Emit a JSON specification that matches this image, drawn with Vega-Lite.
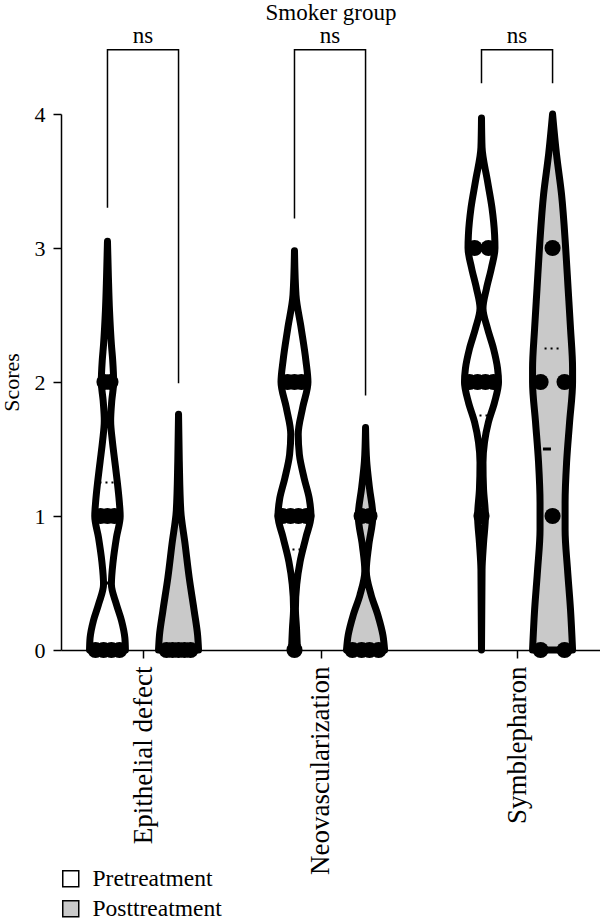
{
  "$schema": "https://vega.github.io/schema/vega-lite/v6.json",
  "width": 540,
  "height": 536,
  "padding": {"left": 0, "top": 2, "right": 0, "bottom": 0},
  "title": {"text": "Smoker group", "font": "Liberation Serif", "fontSize": 23, "fontWeight": "normal", "color": "black", "anchor": "middle", "offset": 0},
  "datasets": {
    "violin": [
      {"category": "Epithelial defect", "group": "Pretreatment", "score": 0, "halfwidth": 0.96},
      {"category": "Epithelial defect", "group": "Pretreatment", "score": 0.09, "halfwidth": 0.93},
      {"category": "Epithelial defect", "group": "Pretreatment", "score": 0.22, "halfwidth": 0.75},
      {"category": "Epithelial defect", "group": "Pretreatment", "score": 0.34, "halfwidth": 0.48},
      {"category": "Epithelial defect", "group": "Pretreatment", "score": 0.49, "halfwidth": 0.21},
      {"category": "Epithelial defect", "group": "Pretreatment", "score": 0.66, "halfwidth": 0.30},
      {"category": "Epithelial defect", "group": "Pretreatment", "score": 0.84, "halfwidth": 0.48},
      {"category": "Epithelial defect", "group": "Pretreatment", "score": 1.0, "halfwidth": 0.68},
      {"category": "Epithelial defect", "group": "Pretreatment", "score": 1.11, "halfwidth": 0.63},
      {"category": "Epithelial defect", "group": "Pretreatment", "score": 1.26, "halfwidth": 0.52},
      {"category": "Epithelial defect", "group": "Pretreatment", "score": 1.41, "halfwidth": 0.39},
      {"category": "Epithelial defect", "group": "Pretreatment", "score": 1.56, "halfwidth": 0.26},
      {"category": "Epithelial defect", "group": "Pretreatment", "score": 1.71, "halfwidth": 0.17},
      {"category": "Epithelial defect", "group": "Pretreatment", "score": 1.86, "halfwidth": 0.23},
      {"category": "Epithelial defect", "group": "Pretreatment", "score": 2.0, "halfwidth": 0.33},
      {"category": "Epithelial defect", "group": "Pretreatment", "score": 2.16, "halfwidth": 0.28},
      {"category": "Epithelial defect", "group": "Pretreatment", "score": 2.28, "halfwidth": 0.21},
      {"category": "Epithelial defect", "group": "Pretreatment", "score": 2.53, "halfwidth": 0.11},
      {"category": "Epithelial defect", "group": "Pretreatment", "score": 2.78, "halfwidth": 0.05},
      {"category": "Epithelial defect", "group": "Pretreatment", "score": 3.05, "halfwidth": 0},
      {"category": "Epithelial defect", "group": "Posttreatment", "score": 0, "halfwidth": 1.07},
      {"category": "Epithelial defect", "group": "Posttreatment", "score": 0.11, "halfwidth": 1.02},
      {"category": "Epithelial defect", "group": "Posttreatment", "score": 0.29, "halfwidth": 0.84},
      {"category": "Epithelial defect", "group": "Posttreatment", "score": 0.54, "halfwidth": 0.57},
      {"category": "Epithelial defect", "group": "Posttreatment", "score": 0.79, "halfwidth": 0.35},
      {"category": "Epithelial defect", "group": "Posttreatment", "score": 1.04, "halfwidth": 0.12},
      {"category": "Epithelial defect", "group": "Posttreatment", "score": 1.41, "halfwidth": 0.04},
      {"category": "Epithelial defect", "group": "Posttreatment", "score": 1.76, "halfwidth": 0},
      {"category": "Neovascularization", "group": "Pretreatment", "score": 0, "halfwidth": 0.16},
      {"category": "Neovascularization", "group": "Pretreatment", "score": 0.16, "halfwidth": 0.11},
      {"category": "Neovascularization", "group": "Pretreatment", "score": 0.31, "halfwidth": 0.05},
      {"category": "Neovascularization", "group": "Pretreatment", "score": 0.49, "halfwidth": 0.12},
      {"category": "Neovascularization", "group": "Pretreatment", "score": 0.66, "halfwidth": 0.30},
      {"category": "Neovascularization", "group": "Pretreatment", "score": 0.84, "halfwidth": 0.61},
      {"category": "Neovascularization", "group": "Pretreatment", "score": 1.0, "halfwidth": 0.88},
      {"category": "Neovascularization", "group": "Pretreatment", "score": 1.13, "halfwidth": 0.79},
      {"category": "Neovascularization", "group": "Pretreatment", "score": 1.28, "halfwidth": 0.52},
      {"category": "Neovascularization", "group": "Pretreatment", "score": 1.46, "halfwidth": 0.26},
      {"category": "Neovascularization", "group": "Pretreatment", "score": 1.61, "halfwidth": 0.20},
      {"category": "Neovascularization", "group": "Pretreatment", "score": 1.81, "halfwidth": 0.44},
      {"category": "Neovascularization", "group": "Pretreatment", "score": 2.0, "halfwidth": 0.72},
      {"category": "Neovascularization", "group": "Pretreatment", "score": 2.16, "halfwidth": 0.61},
      {"category": "Neovascularization", "group": "Pretreatment", "score": 2.4, "halfwidth": 0.36},
      {"category": "Neovascularization", "group": "Pretreatment", "score": 2.65, "halfwidth": 0.08},
      {"category": "Neovascularization", "group": "Pretreatment", "score": 2.98, "halfwidth": 0},
      {"category": "Neovascularization", "group": "Posttreatment", "score": 0, "halfwidth": 1.02},
      {"category": "Neovascularization", "group": "Posttreatment", "score": 0.11, "halfwidth": 0.93},
      {"category": "Neovascularization", "group": "Posttreatment", "score": 0.26, "halfwidth": 0.66},
      {"category": "Neovascularization", "group": "Posttreatment", "score": 0.41, "halfwidth": 0.30},
      {"category": "Neovascularization", "group": "Posttreatment", "score": 0.59, "halfwidth": 0.04},
      {"category": "Neovascularization", "group": "Posttreatment", "score": 0.78, "halfwidth": 0.17},
      {"category": "Neovascularization", "group": "Posttreatment", "score": 1.0, "halfwidth": 0.39},
      {"category": "Neovascularization", "group": "Posttreatment", "score": 1.21, "halfwidth": 0.21},
      {"category": "Neovascularization", "group": "Posttreatment", "score": 1.41, "halfwidth": 0.06},
      {"category": "Neovascularization", "group": "Posttreatment", "score": 1.66, "halfwidth": 0},
      {"category": "Symblepharon", "group": "Pretreatment", "score": 0, "halfwidth": 0},
      {"category": "Symblepharon", "group": "Pretreatment", "score": 0.6, "halfwidth": 0.03},
      {"category": "Symblepharon", "group": "Pretreatment", "score": 0.8, "halfwidth": 0.11},
      {"category": "Symblepharon", "group": "Pretreatment", "score": 1.0, "halfwidth": 0.21},
      {"category": "Symblepharon", "group": "Pretreatment", "score": 1.2, "halfwidth": 0.11},
      {"category": "Symblepharon", "group": "Pretreatment", "score": 1.4, "halfwidth": 0.08},
      {"category": "Symblepharon", "group": "Pretreatment", "score": 1.55, "halfwidth": 0.16},
      {"category": "Symblepharon", "group": "Pretreatment", "score": 1.7, "halfwidth": 0.37},
      {"category": "Symblepharon", "group": "Pretreatment", "score": 1.85, "halfwidth": 0.70},
      {"category": "Symblepharon", "group": "Pretreatment", "score": 2.0, "halfwidth": 0.91},
      {"category": "Symblepharon", "group": "Pretreatment", "score": 2.1, "halfwidth": 0.86},
      {"category": "Symblepharon", "group": "Pretreatment", "score": 2.25, "halfwidth": 0.64},
      {"category": "Symblepharon", "group": "Pretreatment", "score": 2.4, "halfwidth": 0.32},
      {"category": "Symblepharon", "group": "Pretreatment", "score": 2.55, "halfwidth": 0.08},
      {"category": "Symblepharon", "group": "Pretreatment", "score": 2.7, "halfwidth": 0.27},
      {"category": "Symblepharon", "group": "Pretreatment", "score": 2.85, "halfwidth": 0.53},
      {"category": "Symblepharon", "group": "Pretreatment", "score": 3.0, "halfwidth": 0.72},
      {"category": "Symblepharon", "group": "Pretreatment", "score": 3.1, "halfwidth": 0.70},
      {"category": "Symblepharon", "group": "Pretreatment", "score": 3.3, "halfwidth": 0.56},
      {"category": "Symblepharon", "group": "Pretreatment", "score": 3.5, "halfwidth": 0.32},
      {"category": "Symblepharon", "group": "Pretreatment", "score": 3.75, "halfwidth": 0.03},
      {"category": "Symblepharon", "group": "Pretreatment", "score": 3.97, "halfwidth": 0},
      {"category": "Symblepharon", "group": "Posttreatment", "score": 0, "halfwidth": 1.07},
      {"category": "Symblepharon", "group": "Posttreatment", "score": 0.3, "halfwidth": 0.96},
      {"category": "Symblepharon", "group": "Posttreatment", "score": 0.6, "halfwidth": 0.80},
      {"category": "Symblepharon", "group": "Posttreatment", "score": 0.9, "halfwidth": 0.67},
      {"category": "Symblepharon", "group": "Posttreatment", "score": 1.1, "halfwidth": 0.67},
      {"category": "Symblepharon", "group": "Posttreatment", "score": 1.4, "halfwidth": 0.75},
      {"category": "Symblepharon", "group": "Posttreatment", "score": 1.7, "halfwidth": 0.91},
      {"category": "Symblepharon", "group": "Posttreatment", "score": 2.0, "halfwidth": 1.07},
      {"category": "Symblepharon", "group": "Posttreatment", "score": 2.1, "halfwidth": 1.07},
      {"category": "Symblepharon", "group": "Posttreatment", "score": 2.4, "halfwidth": 0.96},
      {"category": "Symblepharon", "group": "Posttreatment", "score": 2.7, "halfwidth": 0.83},
      {"category": "Symblepharon", "group": "Posttreatment", "score": 3.0, "halfwidth": 0.70},
      {"category": "Symblepharon", "group": "Posttreatment", "score": 3.4, "halfwidth": 0.48},
      {"category": "Symblepharon", "group": "Posttreatment", "score": 3.7, "halfwidth": 0.21},
      {"category": "Symblepharon", "group": "Posttreatment", "score": 4.0, "halfwidth": 0}
    ],
    "points": [
      {"category": "Epithelial defect", "group": "Pretreatment", "score": 0, "jitter": -0.64},
      {"category": "Epithelial defect", "group": "Pretreatment", "score": 0, "jitter": -0.21},
      {"category": "Epithelial defect", "group": "Pretreatment", "score": 0, "jitter": 0.21},
      {"category": "Epithelial defect", "group": "Pretreatment", "score": 0, "jitter": 0.64},
      {"category": "Epithelial defect", "group": "Pretreatment", "score": 1, "jitter": -0.37},
      {"category": "Epithelial defect", "group": "Pretreatment", "score": 1, "jitter": 0},
      {"category": "Epithelial defect", "group": "Pretreatment", "score": 1, "jitter": 0.37},
      {"category": "Epithelial defect", "group": "Pretreatment", "score": 2, "jitter": -0.16},
      {"category": "Epithelial defect", "group": "Pretreatment", "score": 2, "jitter": 0.16},
      {"category": "Epithelial defect", "group": "Posttreatment", "score": 0, "jitter": -0.64},
      {"category": "Epithelial defect", "group": "Posttreatment", "score": 0, "jitter": -0.32},
      {"category": "Epithelial defect", "group": "Posttreatment", "score": 0, "jitter": 0},
      {"category": "Epithelial defect", "group": "Posttreatment", "score": 0, "jitter": 0.32},
      {"category": "Epithelial defect", "group": "Posttreatment", "score": 0, "jitter": 0.64},
      {"category": "Neovascularization", "group": "Pretreatment", "score": 0, "jitter": 0},
      {"category": "Neovascularization", "group": "Pretreatment", "score": 1, "jitter": -0.64},
      {"category": "Neovascularization", "group": "Pretreatment", "score": 1, "jitter": -0.21},
      {"category": "Neovascularization", "group": "Pretreatment", "score": 1, "jitter": 0.21},
      {"category": "Neovascularization", "group": "Pretreatment", "score": 1, "jitter": 0.64},
      {"category": "Neovascularization", "group": "Pretreatment", "score": 2, "jitter": -0.37},
      {"category": "Neovascularization", "group": "Pretreatment", "score": 2, "jitter": 0},
      {"category": "Neovascularization", "group": "Pretreatment", "score": 2, "jitter": 0.37},
      {"category": "Neovascularization", "group": "Posttreatment", "score": 0, "jitter": -0.7},
      {"category": "Neovascularization", "group": "Posttreatment", "score": 0, "jitter": -0.21},
      {"category": "Neovascularization", "group": "Posttreatment", "score": 0, "jitter": 0.21},
      {"category": "Neovascularization", "group": "Posttreatment", "score": 0, "jitter": 0.7},
      {"category": "Neovascularization", "group": "Posttreatment", "score": 1, "jitter": -0.21},
      {"category": "Neovascularization", "group": "Posttreatment", "score": 1, "jitter": 0.21},
      {"category": "Symblepharon", "group": "Pretreatment", "score": 1, "jitter": 0},
      {"category": "Symblepharon", "group": "Pretreatment", "score": 2, "jitter": -0.64},
      {"category": "Symblepharon", "group": "Pretreatment", "score": 2, "jitter": -0.21},
      {"category": "Symblepharon", "group": "Pretreatment", "score": 2, "jitter": 0.21},
      {"category": "Symblepharon", "group": "Pretreatment", "score": 2, "jitter": 0.64},
      {"category": "Symblepharon", "group": "Pretreatment", "score": 3, "jitter": -0.37},
      {"category": "Symblepharon", "group": "Pretreatment", "score": 3, "jitter": 0.37},
      {"category": "Symblepharon", "group": "Posttreatment", "score": 0, "jitter": -0.64},
      {"category": "Symblepharon", "group": "Posttreatment", "score": 0, "jitter": 0.64},
      {"category": "Symblepharon", "group": "Posttreatment", "score": 1, "jitter": 0},
      {"category": "Symblepharon", "group": "Posttreatment", "score": 2, "jitter": -0.64},
      {"category": "Symblepharon", "group": "Posttreatment", "score": 2, "jitter": 0.64},
      {"category": "Symblepharon", "group": "Posttreatment", "score": 3, "jitter": 0}
    ],
    "stats": [
      {"category": "Epithelial defect", "group": "Pretreatment", "score": 0.5, "kind": "median", "jitter": 0},
      {"category": "Epithelial defect", "group": "Pretreatment", "score": 1.25, "kind": "quartile", "jitter": 0},
      {"category": "Neovascularization", "group": "Pretreatment", "score": 0.75, "kind": "quartile", "jitter": 0},
      {"category": "Symblepharon", "group": "Pretreatment", "score": 1.75, "kind": "quartile", "jitter": 0},
      {"category": "Symblepharon", "group": "Posttreatment", "score": 2.25, "kind": "quartile", "jitter": 0},
      {"category": "Symblepharon", "group": "Posttreatment", "score": 1.5, "kind": "median", "jitter": -0.3}
    ],
    "brackets": [
      {"category": "Epithelial defect", "group": "Pretreatment", "score": 3.3, "step": 1},
      {"category": "Epithelial defect", "group": "Pretreatment", "score": 4.48, "step": 2},
      {"category": "Epithelial defect", "group": "Posttreatment", "score": 4.48, "step": 3},
      {"category": "Epithelial defect", "group": "Posttreatment", "score": 1.99, "step": 4},
      {"category": "Neovascularization", "group": "Pretreatment", "score": 3.22, "step": 1},
      {"category": "Neovascularization", "group": "Pretreatment", "score": 4.48, "step": 2},
      {"category": "Neovascularization", "group": "Posttreatment", "score": 4.48, "step": 3},
      {"category": "Neovascularization", "group": "Posttreatment", "score": 1.9, "step": 4},
      {"category": "Symblepharon", "group": "Pretreatment", "score": 4.23, "step": 1},
      {"category": "Symblepharon", "group": "Pretreatment", "score": 4.48, "step": 2},
      {"category": "Symblepharon", "group": "Posttreatment", "score": 4.48, "step": 3},
      {"category": "Symblepharon", "group": "Posttreatment", "score": 4.23, "step": 4}
    ],
    "significance": [
      {"category": "Epithelial defect", "score": 4.58, "label": "ns"},
      {"category": "Neovascularization", "score": 4.58, "label": "ns"},
      {"category": "Symblepharon", "score": 4.58, "label": "ns"}
    ]
  },
  "layer": [
    {
      "data": {"name": "violin"},
      "transform": [
        {"calculate": "indexof(['Epithelial defect','Neovascularization','Symblepharon'], datum.category) * 10 + (datum.group === 'Pretreatment' ? -1.9 : 1.9)", "as": "center"},
        {"calculate": "datum.center - datum.halfwidth", "as": "left"},
        {"calculate": "datum.center + datum.halfwidth", "as": "right"}
      ],
      "mark": {"type": "area", "orient": "horizontal", "stroke": "black", "strokeWidth": 7, "strokeJoin": "round", "strokeCap": "round", "interpolate": "monotone", "opacity": 1},
      "encoding": {
        "y": {"field": "score", "type": "quantitative", "scale": {"domain": [0, 4], "nice": false, "zero": false},
              "axis": {"values": [0, 1, 2, 3, 4], "format": "d", "title": "Scores", "titlePadding": 11, "labelPadding": 8, "labelFontSize": 22, "titleFontSize": 22}},
        "x": {"field": "left", "type": "quantitative", "scale": {"domain": [-4.385, 24.49], "nice": false, "zero": false},
              "axis": {"values": [0, 9.5, 20], "title": null, "labelAngle": 270, "labelAlign": "right", "labelBaseline": "middle", "labelPadding": 8, "labelFontSize": 27, "labelLimit": 0,
                       "labelExpr": "datum.value < 5 ? 'Epithelial defect' : datum.value < 15 ? 'Neovascularization' : 'Symblepharon'"}},
        "x2": {"field": "right"},
        "fill": {"field": "group", "type": "nominal",
                 "scale": {"domain": ["Pretreatment", "Posttreatment"], "range": ["#ffffff", "#c9c9c9"]},
                 "legend": {"orient": "none", "legendX": -2, "legendY": 753, "title": null, "direction": "vertical", "padding": 0,
                            "symbolType": "square", "symbolSize": 256, "symbolStrokeColor": "black", "symbolStrokeWidth": 1.5,
                            "labelFont": "Liberation Serif", "labelFontSize": 23.5, "labelColor": "black", "labelOffset": 10, "rowPadding": 5,
                            "encode": {"symbols": {"update": {"stroke": {"value": "black"}, "strokeWidth": {"value": 1.5}}}}}},
        "detail": {"field": "category"}
      }
    },
    {
      "data": {"name": "stats"},
      "transform": [
        {"filter": "datum.kind === 'median'"},
        {"calculate": "indexof(['Epithelial defect','Neovascularization','Symblepharon'], datum.category) * 10 + (datum.group === 'Pretreatment' ? -1.9 : 1.9) + datum.jitter", "as": "center"}
      ],
      "mark": {"type": "point", "shape": "M-1,0L1,0", "size": 64, "filled": false, "stroke": "black", "strokeWidth": 3, "opacity": 1},
      "encoding": {
        "x": {"field": "center", "type": "quantitative"},
        "y": {"field": "score", "type": "quantitative"}
      }
    },
    {
      "data": {"name": "stats"},
      "transform": [
        {"filter": "datum.kind === 'quartile'"},
        {"calculate": "indexof(['Epithelial defect','Neovascularization','Symblepharon'], datum.category) * 10 + (datum.group === 'Pretreatment' ? -1.9 : 1.9) + datum.jitter", "as": "center"}
      ],
      "mark": {"type": "point", "shape": "M-1,0L1,0", "size": 256, "filled": false, "stroke": "black", "strokeWidth": 2, "strokeDash": [2, 4], "opacity": 1},
      "encoding": {
        "x": {"field": "center", "type": "quantitative"},
        "y": {"field": "score", "type": "quantitative"}
      }
    },
    {
      "data": {"name": "points"},
      "transform": [
        {"calculate": "indexof(['Epithelial defect','Neovascularization','Symblepharon'], datum.category) * 10 + (datum.group === 'Pretreatment' ? -1.9 : 1.9) + datum.jitter", "as": "position"}
      ],
      "mark": {"type": "circle", "size": 260, "color": "black", "opacity": 1},
      "encoding": {
        "x": {"field": "position", "type": "quantitative"},
        "y": {"field": "score", "type": "quantitative"}
      }
    },
    {
      "data": {"name": "brackets"},
      "transform": [
        {"calculate": "indexof(['Epithelial defect','Neovascularization','Symblepharon'], datum.category) * 10 + (datum.group === 'Pretreatment' ? -1.9 : 1.9)", "as": "center"}
      ],
      "mark": {"type": "line", "color": "black", "strokeWidth": 1.5},
      "encoding": {
        "x": {"field": "center", "type": "quantitative"},
        "y": {"field": "score", "type": "quantitative"},
        "order": {"field": "step", "type": "quantitative"},
        "detail": {"field": "category"}
      }
    },
    {
      "data": {"name": "significance"},
      "transform": [
        {"calculate": "indexof(['Epithelial defect','Neovascularization','Symblepharon'], datum.category) * 10", "as": "middle"}
      ],
      "mark": {"type": "text", "font": "Liberation Serif", "fontSize": 23, "color": "black", "baseline": "middle", "align": "center"},
      "encoding": {
        "x": {"field": "middle", "type": "quantitative"},
        "y": {"field": "score", "type": "quantitative"},
        "text": {"field": "label"}
      }
    }
  ],
  "config": {
    "view": {"stroke": null},
    "font": "Liberation Serif",
    "axis": {"labelFont": "Liberation Serif", "titleFont": "Liberation Serif", "titleFontWeight": "normal",
             "labelColor": "black", "titleColor": "black", "domainColor": "black", "tickColor": "black", "domainWidth": 1.5, "tickWidth": 1.5, "tickSize": 8, "grid": false}
  }
}
